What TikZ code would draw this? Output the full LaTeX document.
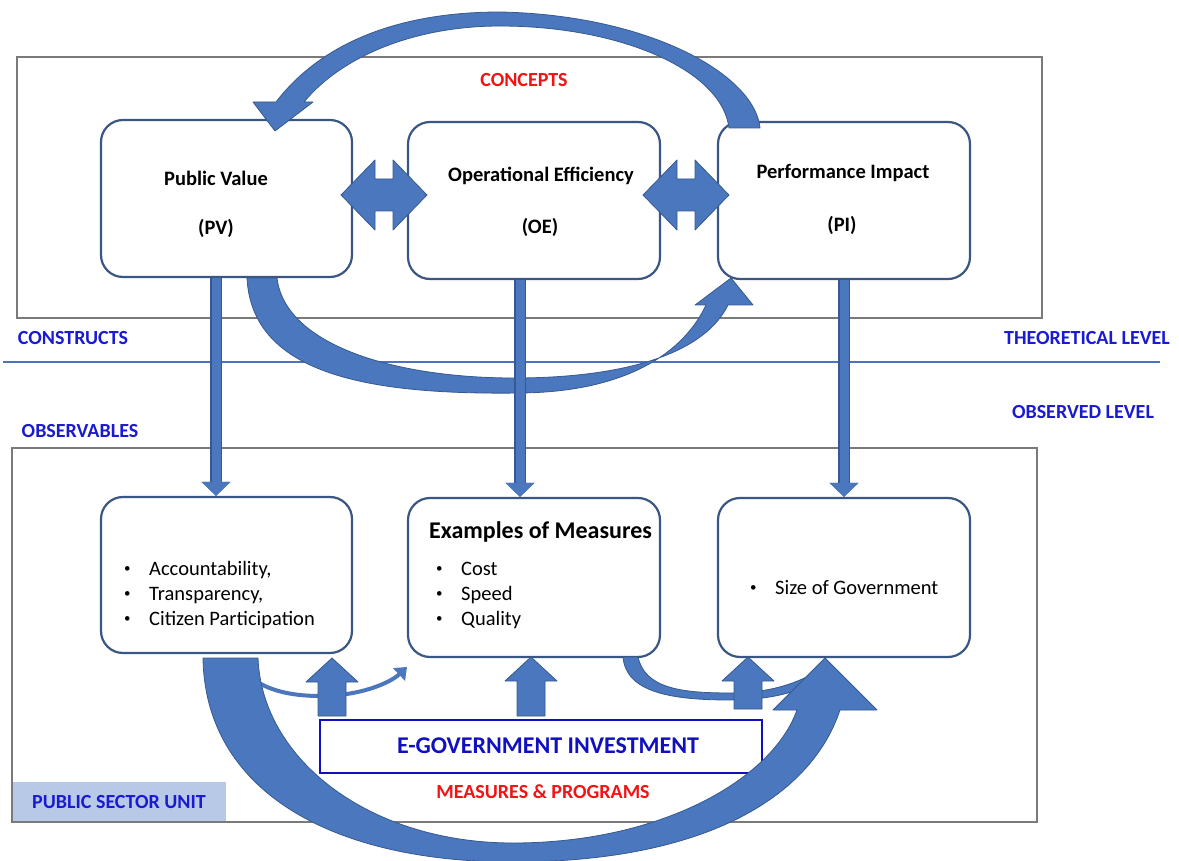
\documentclass[tikz,border=0pt]{standalone}
\usepackage{fontspec}
\setmainfont{Carlito}
\usetikzlibrary{arrows.meta,calc}

\definecolor{arrowfill}{HTML}{4A77BD}
\definecolor{arrowedge}{HTML}{36598F}
\definecolor{boxline}{HTML}{3A5683}
\definecolor{framegray}{HTML}{7A7A7A}
\definecolor{lblblue}{HTML}{1A1AD0}
\definecolor{lblred}{HTML}{F01414}
\definecolor{egovblue}{HTML}{1010C0}
\definecolor{psufill}{HTML}{B8C9E8}
\definecolor{levelline}{HTML}{4A72C0}

% upward block arrow: x, tip y, bottom y
\newcommand\upblock[3]{%
  \path[blockarrow] (#1,#2) -- ({#1+26},{#2+24}) -- ({#1+14},{#2+24}) -- ({#1+14},#3)
    -- ({#1-14},#3) -- ({#1-14},{#2+24}) -- ({#1-26},{#2+24}) -- cycle;}
% small bullet marker with fixed indent
\newcommand\itm{\makebox[25pt][l]{\raisebox{2.4pt}{\fontsize{13}{13}\selectfont •}}}

\begin{document}
\begin{tikzpicture}[x=1pt,y=-1pt,
  frame/.style={draw=framegray, line width=2pt, inner sep=0pt},
  cbox/.style={draw=boxline, line width=2.2pt, rounded corners=22pt, fill=white, inner sep=0pt},
  blockarrow/.style={fill=arrowfill, draw=arrowedge, line width=0.8pt, line join=round},
  vconn/.style={draw=arrowfill, line width=9pt, -{Triangle[length=14pt,width=28pt]},
    preaction={draw=arrowedge, line width=12pt, -{Triangle[length=14pt,width=28pt]}}},
  ttl/.style={font=\fontsize{20.5}{24}\selectfont\bfseries, inner sep=0pt},
  bul/.style={font=\fontsize{20.5}{25}\selectfont, inner sep=0pt, align=left},
  lbl/.style={font=\fontsize{20}{24}\selectfont\bfseries, inner sep=0pt},
  dblarrow/.pic={\path[blockarrow] (-43,0) -- (-9,-35) -- (-9,-16) -- (9,-16) -- (9,-35)
      -- (43,0) -- (9,35) -- (9,16) -- (-9,16) -- (-9,35) -- cycle;}
]
\useasboundingbox (0,0) rectangle (1179,861);
\fill[white] (0,0) rectangle (1179,861);

% level frames and divider
\node[fill=psufill, minimum width=214pt, minimum height=40pt, inner sep=0pt,
      font=\fontsize{20}{24}\selectfont\bfseries, text=lblblue] (psu) at (119,802) {PUBLIC SECTOR UNIT};
\node[frame, minimum width=1025pt, minimum height=261pt] (theory) at (529.5,187.5) {};
\node[frame, minimum width=1025pt, minimum height=374pt] (observed) at (524.5,635) {};
\draw[levelline, line width=1.3pt] (3,362) -- (1160,362);

% concept boxes
\node[cbox, minimum width=251pt, minimum height=157pt] (pv) at (226.5,198.5) {};
\node[cbox, minimum width=252pt, minimum height=157pt] (oe) at (534,200.5) {};
\node[cbox, minimum width=252pt, minimum height=157pt] (pi) at (844,200.5) {};

% observable boxes
\node[cbox, minimum width=251pt, minimum height=156pt] (pvobs) at (226.5,575) {};
\node[cbox, minimum width=252pt, minimum height=159pt] (oeobs) at (534,577.5) {};
\node[cbox, minimum width=252pt, minimum height=159pt] (piobs) at (844,577.5) {};

% investment box
\node[draw=egovblue, line width=2.5pt, minimum width=442pt, minimum height=53pt, inner sep=0pt] (egov) at (541,746.5) {};

% feedback curve PI -> PV
\path[blockarrow] (760,128) .. controls (755,75) and (650,15) .. (500,12)
  .. controls (400,12) and (322,42) .. (276,102) -- (253,102) -- (275,131) -- (313,102) -- (304,102)
  .. controls (342,56) and (415,26) .. (500,26)
  .. controls (620,26) and (722,70) .. (729,128) -- cycle;

% curve PV -> PI
\path[blockarrow] (247,278) .. controls (252,375) and (370,395) .. (520,393)
  .. controls (630,392) and (685,350) .. (706,305) -- (695,305) -- (731,278) -- (753,305) -- (728,305)
  .. controls (705,352) and (630,377) .. (520,378)
  .. controls (395,379) and (285,345) .. (277,278) -- cycle;

% small curves between observable boxes
\draw[arrowfill, line width=4pt, -{Triangle[length=11pt,width=17pt]}]
  (245,672) .. controls (262,690) and (290,696) .. (320,696)
  .. controls (360,696) and (390,683) .. (407,667);
\path[blockarrow] (623,657) .. controls (626,692) and (670,700) .. (730,700)
  .. controls (775,700) and (805,690) .. (826,676)
  -- (822,668) .. controls (800,683) and (770,693) .. (730,693)
  .. controls (680,693) and (645,688) .. (638,657) -- cycle;

% large curve from left observable box to right observable box
\path[blockarrow] (203,658) .. controls (205,790) and (330,862) .. (513,862)
  .. controls (700,862) and (810,800) .. (840,710) -- (877,710) -- (825,658) -- (773,710) -- (797,710)
  .. controls (772,780) and (660,843) .. (513,843)
  .. controls (370,843) and (262,760) .. (258,658) -- cycle;

% investment arrows
\upblock{332}{658}{716}
\upblock{531}{657}{716}
\upblock{748}{657}{709}

% two-way links between concepts
\pic at (384,195) {dblarrow};
\pic at (686,195) {dblarrow};

% box titles
\node[ttl] (pvt) at (216,178) {Public Value};
\node[ttl] (pvabbr) at (216,228) {(PV)};
\node[ttl] (oet) at (541,176) {Operational Efficiency};
\node[ttl] (oeabbr) at (540,227) {(OE)};
\node[ttl] (pit) at (843,173) {Performance Impact};
\node[ttl] (piabbr) at (842,225) {(PI)};

% construct -> observable links
\draw[vconn] (pvt |- pv.south) -- (pvt |- pvobs.north);
\draw[vconn] ($(oe.south)+(-14,0)$) -- ($(oeobs.north)+(-14,0)$);
\draw[vconn] (pi.south) -- (piobs.north);

% observable contents
\node[bul, anchor=base west] (pvlist) at (124,625)
  {\itm Accountability,\\ \itm Transparency,\\ \itm Citizen Participation};
\node[anchor=base west, inner sep=0pt, font=\fontsize{24}{28}\selectfont\bfseries] (meastitle) at (429,538) {Examples of Measures};
\node[bul, anchor=base west] (oelist) at (436,625)
  {\itm Cost\\ \itm Speed\\ \itm Quality};
\node[bul, anchor=base west] (pilist) at (750,594) {\itm Size of Government};

\node[inner sep=0pt, font=\fontsize{24}{28}\selectfont\bfseries, text=egovblue] (egovt) at (548,746) {E-GOVERNMENT INVESTMENT};

% level labels
\node[lbl, text=lblred] (concepts) at (524,80) {CONCEPTS};
\node[lbl, text=lblblue] (constructs) at (73,338) {CONSTRUCTS};
\node[lbl, text=lblblue] (theolevel) at (1087,338) {THEORETICAL LEVEL};
\node[lbl, text=lblblue] (obslevel) at (1083,412) {OBSERVED LEVEL};
\node[lbl, text=lblblue] (observables) at (80,431) {OBSERVABLES};
\node[lbl, text=lblred] (measprog) at (543,792) {MEASURES \& PROGRAMS};
\end{tikzpicture}
\end{document}
